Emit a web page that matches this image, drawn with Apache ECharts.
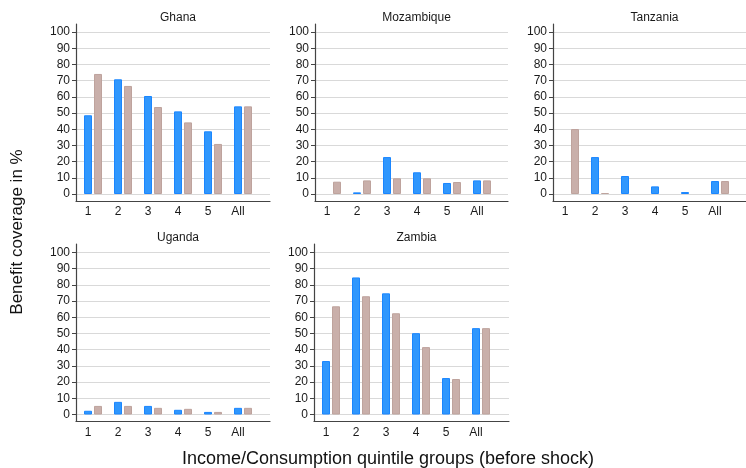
<!DOCTYPE html>
<html>
<head>
<meta charset="utf-8">
<script src="https://cdn.jsdelivr.net/npm/echarts@6/dist/echarts.min.js"></script>
<style>
  html, body { margin: 0; padding: 0; background: #fff; }
  #chart { width: 746px; height: 468px; }
</style>
</head>
<body>
<div id="chart"></div>
<script>
// quintile groups on the x axis
const categories = ['1', '2', '3', '4', '5', 'All']
const countries = ['Ghana', 'Mozambique', 'Tanzania', 'Uganda', 'Zambia']

// blue bars / tan bars, benefit coverage in %
const ghanaBlue = [48.6, 70.8, 60.5, 51.0, 38.7, 54.1]
const ghanaTan = [74.1, 66.7, 53.7, 44.2, 30.9, 54.1]
const mozambiqueBlue = [null, 1.0, 22.8, 13.4, 6.8, 8.4]
const mozambiqueTan = [7.6, 8.4, 9.7, 9.7, 7.4, 8.4]
const tanzaniaBlue = [null, 22.8, 11.1, 4.7, 1.2, 8.0]
const tanzaniaTan = [40.1, 0.6, null, null, null, 8.0]
const ugandaBlue = [2.3, 7.8, 5.3, 2.9, 1.6, 4.1]
const ugandaTan = [5.3, 5.3, 4.1, 3.5, 1.6, 4.1]
const zambiaBlue = [33.0, 84.6, 74.8, 50.2, 22.5, 53.3]
const zambiaTan = [66.8, 73.0, 62.5, 41.6, 21.9, 53.3]

const blueSets = [ghanaBlue, mozambiqueBlue, tanzaniaBlue, ugandaBlue, zambiaBlue]
const tanSets = [ghanaTan, mozambiqueTan, tanzaniaTan, ugandaTan, zambiaTan]

const yTicks = { min: 0, max: 100, interval: 10 }

// panel placement (pixels)
const layout = [
  { x: 76, w: 194, frameTop: 24, plotTop: 32 },
  { x: 315, w: 193, frameTop: 24, plotTop: 32 },
  { x: 553, w: 193, frameTop: 24, plotTop: 32 },
  { x: 76, w: 194, frameTop: 244, plotTop: 252.5 },
  { x: 314, w: 195, frameTop: 244, plotTop: 252.5 }
]
const plotH = 162
const frameGapBottom = 7

const font = '"Liberation Sans", Arial, Helvetica, sans-serif'
const blue = { color: '#3097fd', borderColor: '#1a86ff', borderWidth: 1 }
const tan = { color: '#c9afaa', borderColor: '#bea39d', borderWidth: 1 }

const grid = []
const xAxis = []
const yAxis = []
const series = []
const titles = []

layout.forEach(function(p, i) {
  const g = grid.length
  // 0: background with y labels + gridlines
  grid.push({ left: p.x, top: p.plotTop, width: p.w, height: plotH })
  // 1: bars, blue bar centred on each label
  grid.push({ left: p.x - 3, top: p.plotTop, width: 180, height: plotH })
  // 2: frame (axis lines run past the plot area)
  const frameH = p.plotTop + plotH + frameGapBottom - p.frameTop
  grid.push({ left: p.x, top: p.frameTop, width: p.w, height: frameH })

  xAxis.push({ gridIndex: g, type: 'category', data: categories, show: false })
  yAxis.push({
    gridIndex: g, type: 'value', min: yTicks.min, max: yTicks.max, interval: yTicks.interval,
    axisLine: { show: false },
    axisTick: { show: true, length: 4, lineStyle: { color: '#444' } },
    axisLabel: { margin: 6, color: '#1a1a1a', fontSize: 12, fontFamily: font },
    splitLine: { show: true, lineStyle: { color: '#d9d9d9', width: 1 } }
  })

  xAxis.push({
    gridIndex: g + 1, type: 'category', data: categories,
    axisLine: { show: false }, axisTick: { show: false },
    axisLabel: { margin: 12, color: '#1a1a1a', fontSize: 12, fontFamily: font }
  })
  yAxis.push({ gridIndex: g + 1, type: 'value', min: yTicks.min, max: yTicks.max, show: false })

  xAxis.push({
    gridIndex: g + 2, type: 'value', min: 0, max: 1,
    axisLine: { show: true, lineStyle: { color: '#444', width: 1.2 } },
    axisTick: { show: false }, axisLabel: { show: false }, splitLine: { show: false }
  })
  yAxis.push({
    gridIndex: g + 2, type: 'value', min: 0, max: 1,
    axisLine: { show: true, lineStyle: { color: '#444', width: 1.2 } },
    axisTick: { show: false }, axisLabel: { show: false }, splitLine: { show: false }
  })

  const barAx = xAxis.length - 2
  // empty slot on the left so the pair sits at label and label + 10px
  series.push({
    type: 'bar', xAxisIndex: barAx, yAxisIndex: barAx, barWidth: 8, barGap: '25%',
    data: categories.map(function() { return null }), silent: true
  })
  series.push({
    name: countries[i] + ' blue', type: 'bar', xAxisIndex: barAx, yAxisIndex: barAx,
    barWidth: 8, barGap: '25%', itemStyle: blue, data: blueSets[i]
  })
  series.push({
    name: countries[i] + ' tan', type: 'bar', xAxisIndex: barAx, yAxisIndex: barAx,
    barWidth: 8, barGap: '25%', itemStyle: tan, data: tanSets[i]
  })

  titles.push({
    text: countries[i], left: p.x + p.w / 2, top: p.frameTop - 17, textAlign: 'center',
    textStyle: { fontSize: 12, fontWeight: 'normal', color: '#1a1a1a', fontFamily: font }
  })
})

const option = {
  animation: false,
  title: titles,
  grid: grid,
  xAxis: xAxis,
  yAxis: yAxis,
  series: series,
  graphic: [
    {
      type: 'text', x: 17, y: 232, rotation: Math.PI / 2,
      style: {
        text: 'Benefit coverage in %', fill: '#111', font: '17px ' + font,
        textAlign: 'center', textVerticalAlign: 'middle'
      }
    },
    {
      type: 'text', x: 388, y: 459,
      style: {
        text: 'Income/Consumption quintile groups (before shock)', fill: '#111', font: '18px ' + font,
        textAlign: 'center', textVerticalAlign: 'middle'
      }
    }
  ]
}

const chart = echarts.init(document.getElementById('chart'))
chart.setOption(option)
</script>
</body>
</html>
